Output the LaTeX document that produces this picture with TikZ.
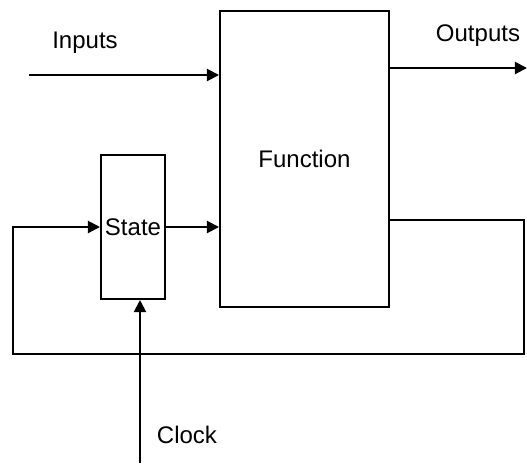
\documentclass[tikz,border=0pt]{standalone}
\usepackage{fontspec}
\setmainfont{Liberation Sans}
\usetikzlibrary{arrows.meta,positioning,calc}

\begin{document}
\begin{tikzpicture}[
  x=0.5pt, y=-0.5pt,
  font=\fontsize{12}{14}\selectfont,
  box/.style={rectangle, draw, line width=1pt, inner sep=0pt, align=center},
  sig/.style={-{Triangle[length=6pt,width=6pt]}, line width=1pt},
  wire/.style={line width=1pt},
  lbl/.style={inner sep=0pt, anchor=center}
]
% fixed page size
\useasboundingbox (0,0) rectangle (527,463);

% Blocks
\node[box, minimum width=84.5pt, minimum height=148pt] (fn) at (304.5,159) {Function};
\node[box, minimum width=32pt, minimum height=72pt] (state) at (133,227) {State};

% Free ends of the connectors
\coordinate (inA) at (29,75);
\coordinate (outB) at (527,68);
\coordinate (fbR) at (524,220);
\coordinate (fbL) at (13,354);
\coordinate (clkA) at (140,463);

% Labels
\node[lbl] (inputs) at (85,43) {Inputs};
\node[lbl] (outputs) at (478,36) {Outputs};
\node[lbl] (clock) at (187,435) {Clock};

% Signals
\draw[sig] (inA) -- (inA -| fn.west);
\draw[sig] (fn.east |- outB) -- (outB);
\draw[sig] (state.east) -- (state.east -| fn.west);
\draw[sig] (clkA) -- (clkA |- state.south);

% Feedback loop: function back into state
\draw[sig] (fn.east |- fbR) -- (fbR) |- (fbL) |- (state.west);
\end{tikzpicture}
\end{document}
